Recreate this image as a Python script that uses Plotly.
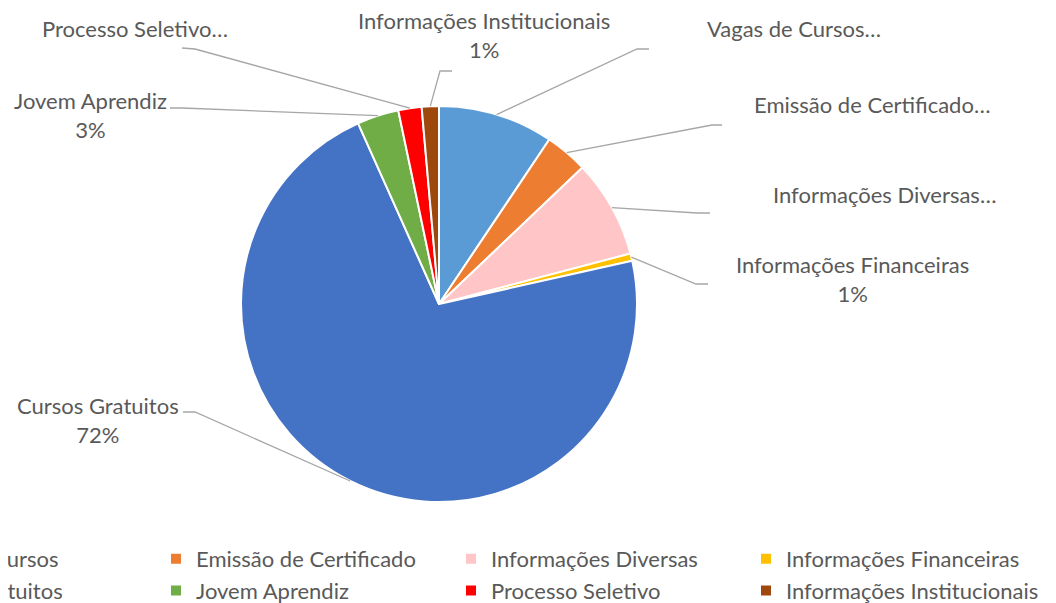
import math
import plotly.graph_objects as go

# ---------------- data ----------------
categories = ["Vagas de Cursos", "Emissão de Certificado", "Informações Diversas",
              "Informações Financeiras", "Cursos Gratuitos", "Jovem Aprendiz",
              "Processo Seletivo", "Informações Institucionais"]
values = [94, 35, 80, 6, 718, 34, 19, 14]
label_truncated = [True, True, True, False, False, False, True, False]

# ---------------- style / layout ----------------
colors = ["#5B9BD5", "#ED7D31", "#FFC5C7", "#FFC000", "#4472C4", "#70AD47", "#FF0000", "#9E480E"]
OFF = 8                       # page body margin of the browser
W, H = 1250, 603              # figure size (right part falls outside the window)
MB = 74                       # bottom margin that holds the legend
GW, GH = W, H - MB            # plot-area size
CX, CY, R = 439, 304, 198     # pie centre and radius, window pixels
FONT = "Lato"
FSIZE = 22
TEXT_COLOR = "#595959"
LINE_COLOR = "#A6A6A6"

# label placement, window pixels: (text centre x, text centre y, elbow x, elbow y, end x, end y)
label_pos = [
    (794, 28, 637, 49, 649, 49),
    (872, 105, 712, 125, 722, 125),
    (884, 194, 697, 213, 710, 213),
    (852, 279, 696, 284, 708, 284),
    (98, 420, 195, 412, 183, 412),
    (90, 115, 182, 108, 170, 108),
    (135, 28, 195, 49, 182, 48),
    (484, 35, 440, 71, 452, 71),
]


def px(x):
    return (x - OFF) / GW


def py(y):
    return 1 - (y - OFF) / GH


fig = go.Figure(go.Pie(
    labels=categories, values=values, sort=False, direction="clockwise", rotation=0,
    marker=dict(colors=colors, line=dict(color="white", width=2)),
    textinfo="none", hoverinfo="label+percent",
    domain=dict(x=[px(CX - R), px(CX + R)], y=[py(CY + R), py(CY - R)]),
))

total = sum(values)
cum = 0
shapes = []
annotations = []
for name, v, trunc, pos in zip(categories, values, label_truncated, label_pos):
    mid = (cum + v / 2) / total * 2 * math.pi
    cum += v
    ex = CX + R * math.sin(mid)
    ey = CY - R * math.cos(mid)
    tx, ty, bx, by, qx, qy = pos
    path = f"M {px(ex)} {py(ey)} L {px(bx)} {py(by)} L {px(qx)} {py(qy)}"
    shapes.append(dict(type="path", xref="paper", yref="paper", path=path,
                       line=dict(color=LINE_COLOR, width=1.3)))
    pct = round(v / total * 100)
    text = f"{name}…" if trunc else f"{name}<br>{pct}%"
    annotations.append(dict(x=px(tx), y=py(ty), xref="paper", yref="paper", text=text,
                            showarrow=False, xanchor="center", yanchor="middle",
                            font=dict(family=FONT, size=FSIZE, color=TEXT_COLOR)))

fig.update_layout(
    width=W, height=H,
    margin=dict(l=0, r=0, t=0, b=MB, autoexpand=False),
    paper_bgcolor="white", plot_bgcolor="white",
    font=dict(family=FONT, size=FSIZE, color=TEXT_COLOR),
    shapes=shapes, annotations=annotations,
    showlegend=True,
    legend=dict(orientation="h", x=(-147) / GW, xanchor="left", y=-0.002, yanchor="top",
                entrywidth=250, entrywidthmode="pixels", itemwidth=30,
                traceorder="normal", font=dict(family=FONT, size=FSIZE, color=TEXT_COLOR),
                bgcolor="rgba(0,0,0,0)"),
)

fig.write_html("out.html")
